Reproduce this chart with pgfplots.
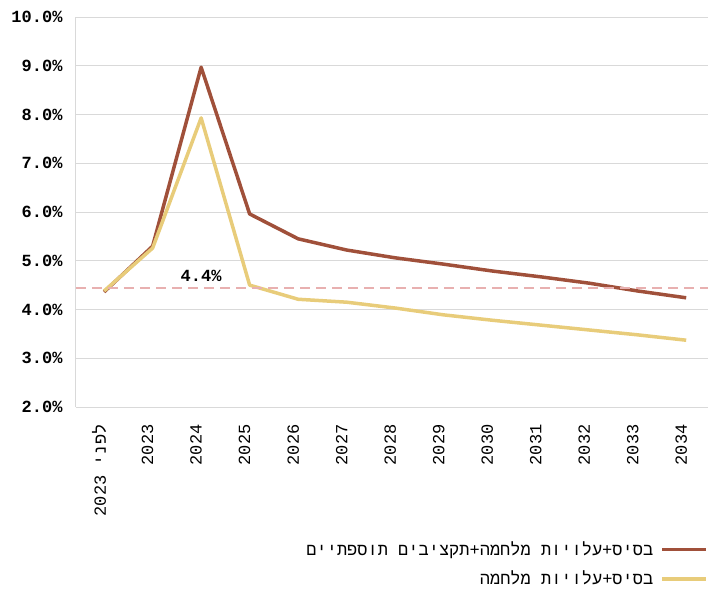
\documentclass[border=0pt]{standalone}
\usepackage{fontspec}
\setmainfont{Liberation Mono}
\newfontfamily\heb[Script=Hebrew]{Liberation Mono}
\TeXXeTstate=1
\usepackage{pgfplots}
\pgfplotsset{compat=1.18}
\definecolor{brownline}{HTML}{A0503A}
\definecolor{yellowline}{HTML}{E8CC7A}
\definecolor{dashpink}{HTML}{E8B0B0}
\definecolor{gridgray}{HTML}{D9D9D9}
\begin{document}
\begin{tikzpicture}[font=\fontsize{17}{20}\selectfont]
\useasboundingbox (-76pt,-184pt) rectangle (633pt,407pt);
\begin{axis}[
  scale only axis, width=632pt, height=390pt,
  xmin=-0.58, xmax=12.45, ymin=2, ymax=10,
  axis lines*=left,
  axis line style={draw=gridgray, line width=1pt},
  ymajorgrids, grid style={draw=gridgray, line width=1pt},
  major tick length=0pt,
  ytick={2,3,...,10},
  yticklabels={2.0\%,3.0\%,4.0\%,5.0\%,6.0\%,7.0\%,8.0\%,9.0\%,10.0\%},
  yticklabel style={font=\fontsize{17}{20}\selectfont\bfseries, xshift=-10pt},
  xtick={0,1,...,12},
  xticklabels={{\heb\beginR לפני 2023\endR},2023,2024,2025,2026,2027,2028,2029,2030,2031,2032,2033,2034},
  xticklabel style={rotate=90, anchor=east, font=\fontsize{17}{20}\selectfont, xshift=-14pt, yshift=5pt},
  legend plot pos=right,
  legend cell align=right,
  legend style={at={(rel axis cs:1,-0.34)}, anchor=north east, draw=none, fill=none,
    inner sep=0pt, row sep=10pt, font=\heb\fontsize{17}{20}\selectfont,
    nodes={inner xsep=7pt}},
  legend image code/.code={\draw[#1, line width=3.5pt] (0pt,0pt) -- (44pt,0pt);},
]
\addplot[brownline, line width=3.5pt, line join=round] coordinates {
(0,4.36)(1,5.30)(2,8.97)(3,5.96)(4,5.45)(5,5.22)(6,5.06)(7,4.93)(8,4.79)(9,4.67)(10,4.54)(11,4.38)(12,4.24)};
\addlegendentry{\beginR בסיס+עלויות מלחמה+תקציבים תוספתיים\endR}
\addplot[yellowline, line width=3.5pt, line join=round] coordinates {
(0,4.38)(1,5.26)(2,7.93)(3,4.50)(4,4.21)(5,4.15)(6,4.03)(7,3.89)(8,3.78)(9,3.68)(10,3.58)(11,3.48)(12,3.37)};
\addlegendentry{\beginR בסיס+עלויות מלחמה\endR}
\addplot[dashpink, line width=2.5pt, dash pattern=on 10pt off 6pt, forget plot] coordinates {(-0.58,4.44)(12.45,4.44)};
\node[font=\fontsize{17}{20}\selectfont\bfseries] at (axis cs:2.0,4.68) {4.4\%};
\end{axis}
\end{tikzpicture}
\end{document}
